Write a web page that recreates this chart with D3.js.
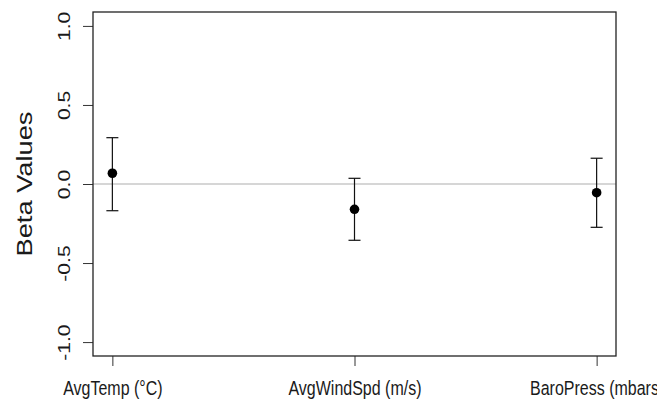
<!DOCTYPE html>
<html>
<head>
<meta charset="utf-8">
<script src="https://cdn.jsdelivr.net/npm/d3@7"></script>
<style>
html,body{margin:0;padding:0;background:#fff;}
svg{display:block;}
text{font-family:"Liberation Sans",Arial,sans-serif;fill:#1a1a1a;}
</style>
</head>
<body>
<svg id="chart" width="657" height="401"></svg>
<script>
const categories = ["AvgTemp (°C)", "AvgWindSpd (m/s)", "BaroPress (mbars)"];
const betas = [0.068, -0.160, -0.055];
const lower = [-0.169, -0.356, -0.274];
const upper = [0.293, 0.036, 0.163];
const yTicks = [-1.0, -0.5, 0.0, 0.5, 1.0];
const yTitle = "Beta Values";

const W = 657, H = 401;
const plot = {left: 93, right: 616, top: 12, bottom: 356};
const stretch = 1.24;

const svg = d3.select("#chart");

const x = d3.scaleLinear().domain([0.92, 3.08]).range([plot.left, plot.right]);
const y = d3.scaleLinear().domain([-1.088, 1.088]).range([plot.bottom, plot.top]);

// zero reference line
svg.append("line")
  .attr("x1", plot.left).attr("x2", plot.right)
  .attr("y1", y(0)).attr("y2", y(0))
  .attr("stroke", "#c8c8c8").attr("stroke-width", 1.5);

// y axis ticks
const yAxis = d3.axisLeft(y).tickValues(yTicks).tickSize(10).tickFormat(d3.format(".1f"));
const gy = svg.append("g").attr("transform", `translate(${plot.left},0)`).call(yAxis);
gy.select(".domain").remove();
gy.selectAll(".tick line").attr("stroke", "#333").attr("stroke-width", 1);
gy.selectAll(".tick text")
  .attr("x", null).attr("dy", null)
  .attr("text-anchor", "middle")
  .attr("font-size", 17)
  .attr("transform", "translate(-23,0) rotate(-90) scale(" + stretch + ",1)")
  .text(d => d3.format(".1f")(d).replace("−", "-"));

// x axis ticks
const xAxis = d3.axisBottom(x).tickValues([1, 2, 3]).tickSize(10).tickFormat((d, i) => categories[i]);
const gx = svg.append("g").attr("transform", `translate(0,${plot.bottom})`).call(xAxis);
gx.select(".domain").remove();
gx.selectAll(".tick line").attr("stroke", "#333").attr("stroke-width", 1);
gx.selectAll(".tick text")
  .attr("y", null).attr("dy", null)
  .attr("text-anchor", "middle")
  .attr("font-size", 16)
  .attr("transform", "translate(0,39) scale(1," + stretch + ")");

// plot box
svg.append("rect")
  .attr("x", plot.left).attr("y", plot.top)
  .attr("width", plot.right - plot.left).attr("height", plot.bottom - plot.top)
  .attr("fill", "none").attr("stroke", "#222").attr("stroke-width", 1.3);

// y title
svg.append("text")
  .attr("text-anchor", "middle")
  .attr("font-size", 22)
  .attr("transform", `translate(32,${(plot.top + plot.bottom) / 2}) rotate(-90) scale(${stretch},1)`)
  .text(yTitle);

// error bars
const idx = d3.range(categories.length);
const eb = svg.append("g").attr("stroke", "#111").attr("stroke-width", 1.2);
eb.selectAll("line.v").data(idx).join("line")
  .attr("x1", i => x(i + 1)).attr("x2", i => x(i + 1))
  .attr("y1", i => y(lower[i])).attr("y2", i => y(upper[i]));
eb.selectAll("line.top").data(idx).join("line")
  .attr("x1", i => x(i + 1) - 6).attr("x2", i => x(i + 1) + 6)
  .attr("y1", i => y(upper[i])).attr("y2", i => y(upper[i]));
eb.selectAll("line.bot").data(idx).join("line")
  .attr("x1", i => x(i + 1) - 6).attr("x2", i => x(i + 1) + 6)
  .attr("y1", i => y(lower[i])).attr("y2", i => y(lower[i]));

// points
svg.append("g").selectAll("circle").data(idx).join("circle")
  .attr("cx", i => x(i + 1)).attr("cy", i => y(betas[i]))
  .attr("r", 4.8).attr("fill", "#000");
</script>
</body>
</html>
